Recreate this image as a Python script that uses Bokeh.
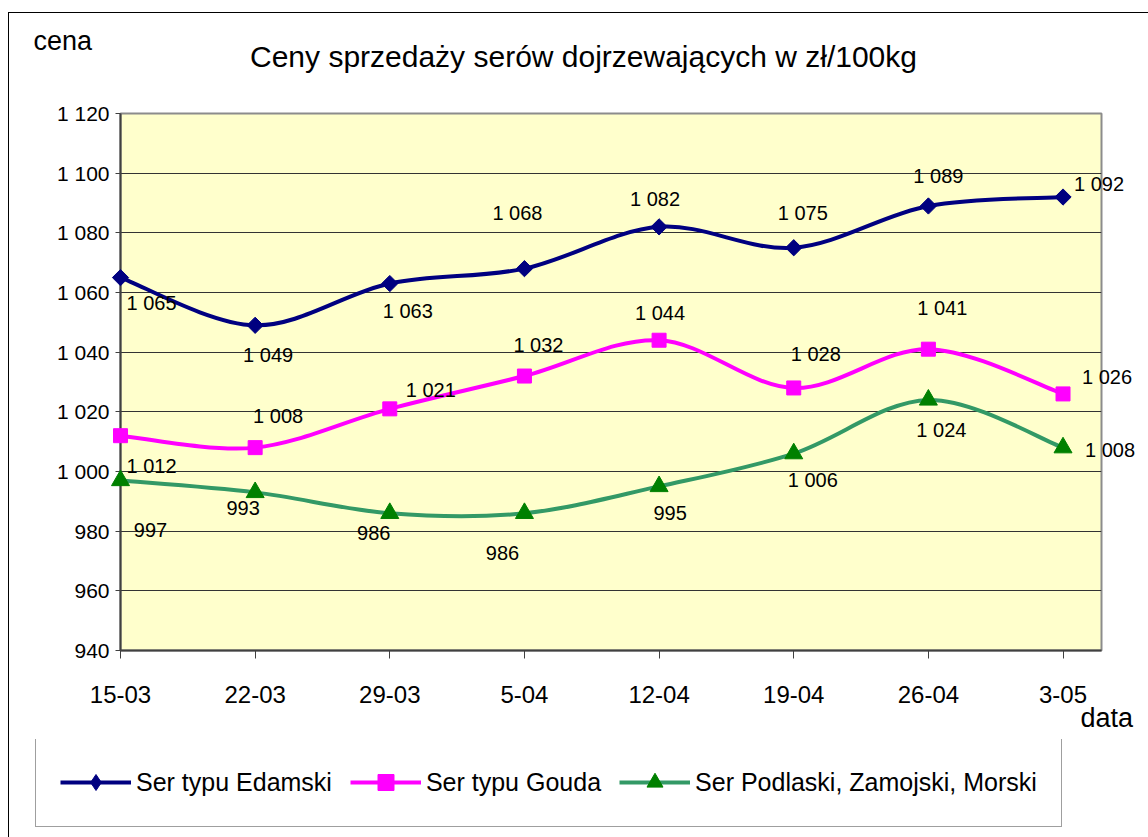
import numpy as np
import pandas as pd
from bokeh.plotting import figure
from bokeh.layouts import column
from bokeh.models import ColumnDataSource, Range1d, FixedTicker, Legend, LegendItem
from bokeh.core.properties import value
from bokeh.embed import file_html
from bokeh.resources import INLINE

# ---------------- data ----------------
dates = ["15-03", "22-03", "29-03", "5-04", "12-04", "19-04", "26-04", "3-05"]
year = 2004
edamski = [1065, 1049, 1063, 1068, 1082, 1075, 1089, 1092]
gouda = [1012, 1008, 1021, 1032, 1044, 1028, 1041, 1026]
podlaski = [997, 993, 986, 986, 995, 1006, 1024, 1008]
series_names = ["Ser typu Edamski", "Ser typu Gouda", "Ser Podlaski, Zamojski, Morski"]
y_ticks = [940, 960, 980, 1000, 1020, 1040, 1060, 1080, 1100, 1120]
title_text = "Ceny sprzedaży serów dojrzewających w zł/100kg"
y_title = "cena"
x_title = "data"

# ---------------- styles ----------------
FONT = "Liberation Sans"
colors_line = ["#000080", "#FF00FF", "#339966"]
colors_marker = ["#000080", "#FF00FF", "#008000"]
markers = ["square", "square", "triangle"]
marker_angles = [np.pi / 4, 0.0, 0.0]
marker_sizes = [11.5, 14, 18]
legend_markers = ["diamond", "square", "triangle"]
# label offsets in pixels (dx right, dy down)
label_dx = [[31, 13, 18, -7, -4, 9, 10, 36],
            [31, 23, 41, 14, 1, 22, 14, 44],
            [30, -12, -16, -22, 11, 19, 13, 47]]
label_dy = [[25, 30, 27, -56, -28, -35, -30, -13],
            [30, -32, -19, -31, -27, -34, -41, -17],
            [50, 16, 20, 40, 27, 26, 30, 2]]


def fmt(v):
    v = int(v)
    return f"{v // 1000} {v % 1000:03d}" if v >= 1000 else str(v)


dt = pd.to_datetime([f"{d}-{year}" for d in dates], format="%d-%m-%Y")
xd = np.asarray((dt - dt[0]).days, dtype=float)

p = figure(width=1139, height=726, output_backend="svg", toolbar_location=None,
           x_range=Range1d(xd[0], xd[-1] + 2), y_range=Range1d(y_ticks[0], y_ticks[-1]),
           min_border_left=111, min_border_right=47, min_border_top=100, min_border_bottom=89)
p.frame_align = False
p.background_fill_color = "#FFFFCC"
p.border_fill_color = "white"
p.outline_line_color = "#8C8C8C"
p.outline_line_width = 2

# axes
p.xaxis.ticker = FixedTicker(ticks=list(xd))
p.xaxis.major_label_overrides = {float(x): d for x, d in zip(xd, dates)}
p.yaxis.ticker = FixedTicker(ticks=y_ticks)
p.yaxis.major_label_overrides = {t: fmt(t) for t in y_ticks}
for ax in (p.xaxis, p.yaxis):
    ax.axis_line_color = "#404040"
    ax.axis_line_width = 2
    ax.major_tick_line_color = "#404040"
    ax.major_tick_line_width = 1
    ax.major_tick_in = 0
    ax.minor_tick_line_color = None
    ax.major_label_text_font = FONT
    ax.major_label_text_color = "black"
p.xaxis.major_tick_out = 8
p.xaxis.major_label_text_font_size = "24px"
p.xaxis.major_label_standoff = 27
p.yaxis.major_tick_out = 5
p.yaxis.major_label_text_font_size = "21px"
p.yaxis.major_label_standoff = 6
p.xgrid.grid_line_color = None
p.ygrid.grid_line_color = "#333333"
p.ygrid.grid_line_width = 1


def bezier_source(xs, ys):
    xs = np.asarray(xs, float)
    ys = np.asarray(ys, float)
    xp = np.concatenate([[xs[0]], xs, [xs[-1]]])
    yp = np.concatenate([[ys[0]], ys, [ys[-1]]])
    i = np.arange(len(xs) - 1)
    return ColumnDataSource(dict(
        x0=xs[i], y0=ys[i], x1=xs[i + 1], y1=ys[i + 1],
        cx0=xs[i] + (xp[i + 2] - xp[i]) / 6, cy0=ys[i] + (yp[i + 2] - yp[i]) / 6,
        cx1=xs[i + 1] - (xp[i + 3] - xp[i + 1]) / 6, cy1=ys[i + 1] - (yp[i + 3] - yp[i + 1]) / 6,
    ))


# legend figure (below the chart)
p2 = figure(width=1139, height=98, output_backend="svg", toolbar_location=None,
            x_range=Range1d(0, 1), y_range=Range1d(0, 1),
            x_axis_location=None, y_axis_location=None, min_border=0)
p2.frame_align = False
p2.outline_line_color = None
p2.background_fill_color = "white"
p2.border_fill_color = "white"
p2.xgrid.grid_line_color = None
p2.ygrid.grid_line_color = None

items = []
lab_x, lab_y, lab_t, lab_dx, lab_dy = [], [], [], [], []
for k, vals in enumerate([edamski, gouda, podlaski]):
    p.bezier(x0="x0", y0="y0", x1="x1", y1="y1", cx0="cx0", cy0="cy0", cx1="cx1", cy1="cy1",
             source=bezier_source(xd, vals), line_color=colors_line[k], line_width=4,
             level="overlay")
    p.scatter(x=xd, y=vals, marker=markers[k], size=marker_sizes[k], angle=marker_angles[k],
              fill_color=colors_marker[k], line_color=colors_marker[k], line_width=1,
              level="overlay")
    # legend proxies (outside the legend figure's visible range)
    lr = p2.line(x=xd, y=vals, line_color=colors_line[k], line_width=4)
    ms = p2.scatter(x=xd, y=vals, marker=legend_markers[k], size=16,
                    fill_color=colors_marker[k], line_color=colors_marker[k])
    items.append(LegendItem(label=series_names[k], renderers=[lr, ms]))
    lab_x += list(xd)
    lab_y += list(vals)
    lab_t += [fmt(v) for v in vals]
    lab_dx += label_dx[k]
    lab_dy += label_dy[k]

lsrc = ColumnDataSource(dict(x=lab_x, y=lab_y, t=lab_t, dx=lab_dx, dy=lab_dy))
p.text(x="x", y="y", text="t", source=lsrc, x_offset="dx", y_offset="dy",
       text_font=value(FONT), text_font_size="20px", text_color="black",
       text_align="center", text_baseline="middle", level="overlay")

# titles anchored at frame corners, offsets in pixels
p.text(x=[xd[0]], y=[y_ticks[-1]], text=[title_text], x_offset=463, y_offset=-57,
       text_font=value(FONT), text_font_size="30px", text_color="black",
       text_align="center", text_baseline="alphabetic", level="overlay")
p.text(x=[xd[0]], y=[y_ticks[-1]], text=[y_title], x_offset=-87, y_offset=-73,
       text_font=value(FONT), text_font_size="27px", text_color="black",
       text_align="left", text_baseline="alphabetic", level="overlay")
p.text(x=[xd[0]], y=[y_ticks[0]], text=[x_title], x_offset=960, y_offset=67,
       text_font=value(FONT), text_font_size="27px", text_color="black",
       text_align="left", text_baseline="alphabetic", level="overlay")

legend = Legend(items=items, location=(26, 10), orientation="horizontal",
                glyph_width=71, glyph_height=40, label_height=40, label_standoff=5,
                spacing=18, padding=24, margin=0,
                border_line_color="#404040", border_line_width=1,
                background_fill_color="white", background_fill_alpha=1,
                label_text_font=FONT, label_text_font_size="25px", label_text_color="black")
p2.add_layout(legend, "center")

layout = column(p, p2, spacing=0, margin=(12, 0, 0, 8),
                styles={"border-left": "1px solid black", "border-top": "1px solid black"})

open("out.html", "w").write(file_html(layout, INLINE))
